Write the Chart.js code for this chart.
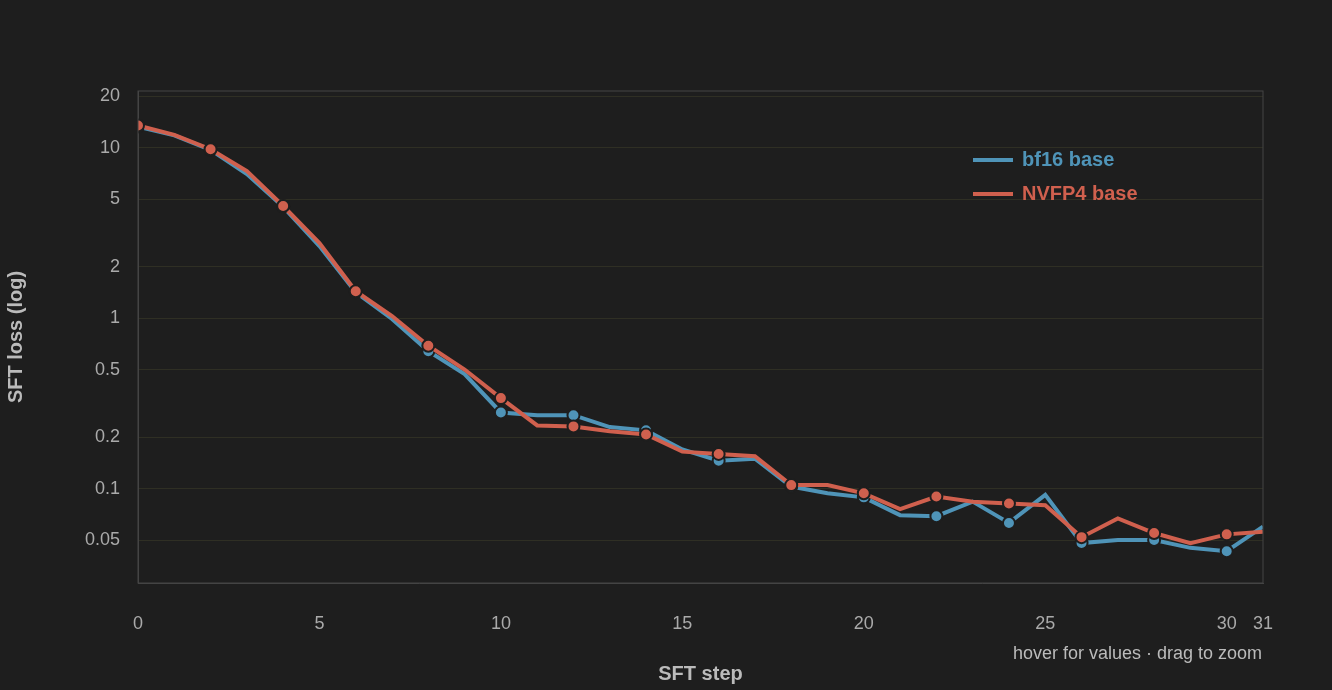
<!DOCTYPE html>
<html><head><meta charset="utf-8">
<script src="https://cdn.jsdelivr.net/npm/chart.js@4"></script>
<style>html,body{margin:0;background:#1e1e1e;overflow:hidden}#wrap{width:1332px;height:690px}</style>
</head><body><div id="wrap"><canvas id="chart-loss"></canvas></div>
<script>
const steps = [...Array(32).keys()];
const bf16Loss = [13.3,11.8,9.7,7.0,4.5,2.65,1.42,0.99,0.64,0.47,0.28,0.27,0.27,0.23,0.22,0.17,0.146,0.15,0.103,0.094,0.089,0.07,0.069,0.084,0.063,0.092,0.048,0.05,0.05,0.045,0.043,0.06];
const nvfp4Loss = [13.5,11.9,9.8,7.3,4.55,2.76,1.44,1.03,0.69,0.5,0.34,0.235,0.232,0.217,0.208,0.165,0.16,0.155,0.105,0.105,0.094,0.076,0.09,0.084,0.082,0.08,0.052,0.067,0.055,0.048,0.054,0.056];
const yTicks = [20,10,5,2,1,0.5,0.2,0.1,0.05];
const blue = '#4f94b8', red = '#d0604e';

function pts(arr){ return arr.map((v,i) => ({x: steps[i], y: v})); }
const radius = ctx => (ctx.dataIndex % 2 === 0 ? 6 : 0);

const legendPlugin = {
    id: 'legendFoot',
    afterDraw(chart) {
        const c = chart.ctx;
        c.save();
        const items = [['bf16 base', blue], ['NVFP4 base', red]];
        items.forEach((it, k) => {
            const y = 160 + k * 34;
            c.strokeStyle = it[1]; c.lineWidth = 4;
            c.beginPath(); c.moveTo(973, y); c.lineTo(1013, y); c.stroke();
            c.fillStyle = it[1]; c.font = 'bold 20px "Liberation Sans", Arial, sans-serif';
            c.textBaseline = 'middle'; c.fillText(it[0], 1022, y);
        });
        c.fillStyle = '#bbbbbb'; c.font = '18px "Liberation Sans", Arial, sans-serif';
        c.textAlign = 'right'; c.textBaseline = 'middle';
        c.fillText('hover for values · drag to zoom', 1262, 654);
        c.restore();
    }
};

new Chart(document.getElementById('chart-loss').getContext('2d'), {
    type: 'line',
    data: {
        datasets: [
            { label: 'NVFP4 base', data: pts(nvfp4Loss), borderColor: red, backgroundColor: red, borderWidth: 4,
              pointRadius: radius, pointBorderColor: '#1e1e1e', pointBorderWidth: 2, order: 1 },
            { label: 'bf16 base', data: pts(bf16Loss), borderColor: blue, backgroundColor: blue, borderWidth: 4,
              pointRadius: radius, pointBorderColor: '#1e1e1e', pointBorderWidth: 2, order: 2 }
        ]
    },
    options: {
        responsive: true, maintainAspectRatio: false, animation: false,
        layout: { padding: { top: 91, right: 69, left: 0, bottom: 0 } },
        plugins: { legend: { display: false }, tooltip: { enabled: false } },
        scales: {
            x: {
                type: 'linear', min: 0, max: 31,
                afterFit: s => { s.height = 107; },
                grid: { display: false },
                border: { color: '#444' },
                ticks: { stepSize: 5, color: '#aaa', padding: 22, font: { size: 18, family: '"Liberation Sans", Arial' } },
                title: { display: true, text: 'SFT step', color: '#bbb', padding: { top: 8 }, font: { size: 20, weight: 'bold', family: '"Liberation Sans", Arial' } }
            },
            y: {
                type: 'logarithmic', min: 0.028, max: 21.5,
                afterFit: s => { s.width = 138; },
                afterBuildTicks: s => { s.ticks = yTicks.map(v => ({ value: v })); },
                grid: { color: '#2f2f24', drawTicks: false },
                border: { color: '#444' },
                ticks: { color: '#aaa', padding: 18, font: { size: 18, family: '"Liberation Sans", Arial' }, callback: v => String(v) },
                title: { display: true, text: 'SFT loss (log)', color: '#bbb', padding: { bottom: 14 }, font: { size: 20, weight: 'bold', family: '"Liberation Sans", Arial' } }
            }
        }
    },
    plugins: [legendPlugin, {
        id: 'frame',
        afterDraw(chart) {
            const a = chart.chartArea, c = chart.ctx;
            c.save(); c.strokeStyle = '#444'; c.lineWidth = 1;
            c.strokeRect(a.left, a.top, a.right - a.left, a.bottom - a.top); c.restore();
        }
    }]
});
</script></body></html>
